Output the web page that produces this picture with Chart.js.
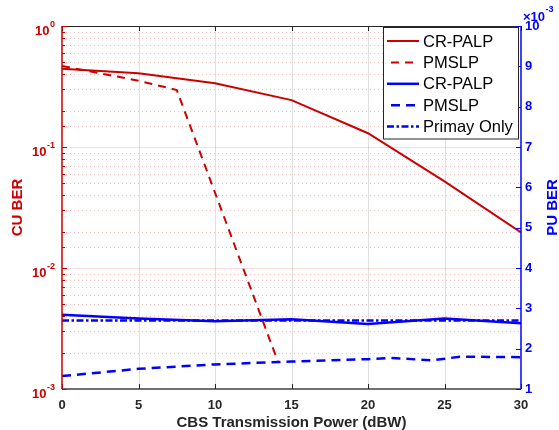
<!DOCTYPE html>
<html>
<head>
<meta charset="utf-8">
<script src="https://cdn.jsdelivr.net/npm/chart.js@4.4.0/dist/chart.umd.min.js"></script>
<style>
  body { margin: 0; background: #fff; }
  canvas { display: block; }
</style>
</head>
<body>
<canvas id="berChart" width="559" height="430"></canvas>
<script>
// CBS transmission power (dBW)
const powerDbw = [0, 5, 10, 15, 20, 25, 30];

// CU BER (left, log axis)
const cuBerPalp = [0.444, 0.406, 0.336, 0.244, 0.130, 0.052, 0.0197];
const cuPmslpPower = [0, 5, 7.5, 14.1];
const cuBerPmslp = [0.467, 0.353, 0.296, 0.0017];

// PU BER (right axis, in units of 1e-3)
const puBerPalp = [2.84, 2.75, 2.68, 2.73, 2.61, 2.75, 2.63];
const puPmslpPower = [0, 5, 10, 15, 20, 21.5, 24.2, 26, 30];
const puBerPmslp = [1.32, 1.50, 1.61, 1.68, 1.74, 1.77, 1.71, 1.80, 1.79];
const puBerPrimary = [2.70, 2.70, 2.70, 2.70, 2.70, 2.70, 2.70];

const xTicks = [0, 5, 10, 15, 20, 25, 30];
const cuDecadeExp = [0, -1, -2, -3];
const puTicks = [1, 2, 3, 4, 5, 6, 7, 8, 9, 10];

const RED = '#cc0000';
const BLUE = '#0000ff';
const DARK = '#262626';
const FONT = '"Liberation Sans", Arial, Helvetica, sans-serif';

const pts = (xs, ys) => xs.map((x, i) => ({ x: x, y: ys[i] }));

// grid, axis box, tick marks, exponent labels and legend, drawn the MATLAB way
const axesPlugin = {
  id: 'matlabAxes',
  beforeDatasetsDraw(chart) {
    const { ctx, chartArea: a, scales } = chart;
    const yL = scales.yL, x = scales.x;
    ctx.save();
    // vertical grid
    ctx.strokeStyle = '#e0e0e0';
    ctx.lineWidth = 1;
    xTicks.forEach(v => {
      if (v === 0 || v === 30) return;
      const px = Math.round(x.getPixelForValue(v)) + 0.5;
      ctx.beginPath(); ctx.moveTo(px, a.top); ctx.lineTo(px, a.bottom); ctx.stroke();
    });
    // horizontal grid from log-scale ticks
    yL.ticks.forEach(t => {
      const lg = Math.log10(t.value);
      const major = Math.abs(lg - Math.round(lg)) < 1e-6;
      const py = Math.round(yL.getPixelForValue(t.value)) + 0.5;
      if (py <= a.top + 1 || py >= a.bottom - 1) return;
      ctx.beginPath();
      if (major) {
        ctx.setLineDash([]);
        ctx.strokeStyle = 'rgba(204,0,0,0.14)';
      } else {
        ctx.setLineDash([1, 3]);
        ctx.strokeStyle = 'rgba(204,0,0,0.25)';
      }
      ctx.moveTo(a.left, py); ctx.lineTo(a.right, py); ctx.stroke();
    });
    ctx.restore();
  },
  afterDatasetsDraw(chart) {
    const { ctx, chartArea: a, scales } = chart;
    const yL = scales.yL, yR = scales.yR, x = scales.x;
    ctx.save();
    ctx.setLineDash([]);

    // top and bottom edges with x ticks
    ctx.lineWidth = 1;
    ctx.strokeStyle = DARK;
    ctx.beginPath(); ctx.moveTo(a.left, a.top + 0.5); ctx.lineTo(a.right, a.top + 0.5); ctx.stroke();
    ctx.strokeStyle = '#707070';
    ctx.lineWidth = 2;
    ctx.beginPath(); ctx.moveTo(a.left, a.bottom); ctx.lineTo(a.right, a.bottom); ctx.stroke();
    ctx.lineWidth = 1;
    ctx.strokeStyle = DARK;
    xTicks.forEach(v => {
      const px = Math.round(x.getPixelForValue(v)) + 0.5;
      ctx.beginPath(); ctx.moveTo(px, a.bottom); ctx.lineTo(px, a.bottom - 5); ctx.stroke();
      ctx.beginPath(); ctx.moveTo(px, a.top); ctx.lineTo(px, a.top + 5); ctx.stroke();
    });

    // left axis
    ctx.strokeStyle = RED;
    ctx.lineWidth = 1.5;
    ctx.beginPath(); ctx.moveTo(a.left, a.top); ctx.lineTo(a.left, a.bottom); ctx.stroke();
    ctx.lineWidth = 1;
    yL.ticks.forEach(t => {
      const lg = Math.log10(t.value);
      const major = Math.abs(lg - Math.round(lg)) < 1e-6;
      const py = Math.round(yL.getPixelForValue(t.value)) + 0.5;
      ctx.beginPath(); ctx.moveTo(a.left, py); ctx.lineTo(a.left + (major ? 5 : 3), py); ctx.stroke();
    });
    ctx.fillStyle = RED;
    ctx.textBaseline = 'middle';
    cuDecadeExp.forEach(e => {
      const py = yL.getPixelForValue(Math.pow(10, e));
      const exp = String(e);
      ctx.font = 'bold 9px ' + FONT;
      const ew = ctx.measureText(exp).width;
      ctx.textAlign = 'left';
      ctx.fillText(exp, 55 - ew, py - 1);
      ctx.font = 'bold 13px ' + FONT;
      ctx.textAlign = 'right';
      ctx.fillText('10', 55 - ew - 0.5, py + 5);
    });

    // right axis
    ctx.strokeStyle = BLUE;
    ctx.lineWidth = 1.5;
    ctx.beginPath(); ctx.moveTo(a.right, a.top); ctx.lineTo(a.right, a.bottom); ctx.stroke();
    ctx.lineWidth = 1;
    puTicks.forEach(v => {
      const py = Math.round(yR.getPixelForValue(v)) + 0.5;
      ctx.beginPath(); ctx.moveTo(a.right, py); ctx.lineTo(a.right - 5, py); ctx.stroke();
    });
    ctx.fillStyle = BLUE;
    ctx.textAlign = 'left';
    ctx.font = 'bold 13px ' + FONT;
    ctx.fillText('\u00d710', 523, 17);
    const xw = ctx.measureText('\u00d710').width;
    ctx.font = 'bold 9px ' + FONT;
    ctx.fillText('-3', 523 + xw + 0.5, 10);

    // right axis title, reading bottom to top
    ctx.save();
    ctx.translate(553, (a.top + a.bottom) / 2);
    ctx.rotate(-Math.PI / 2);
    ctx.textAlign = 'center';
    ctx.font = 'bold 15px ' + FONT;
    ctx.fillText('PU BER', 0, 0);
    ctx.restore();

    // legend
    const lx = 383.5, ly = 27.5, lw = 135, lh = 111.5;
    ctx.fillStyle = '#fff';
    ctx.fillRect(lx, ly, lw, lh);
    ctx.strokeStyle = DARK;
    ctx.lineWidth = 1;
    ctx.strokeRect(lx, ly, lw, lh);
    chart.data.datasets.forEach((ds, i) => {
      const ry = 41 + i * 21.4;
      ctx.strokeStyle = ds.borderColor;
      ctx.lineWidth = ds.borderWidth;
      ctx.setLineDash(ds.borderDash || []);
      ctx.lineDashOffset = ds.borderDash && ds.borderDash.length === 2 ? -4 : 0;
      ctx.beginPath(); ctx.moveTo(387, ry); ctx.lineTo(419, ry); ctx.stroke();
      ctx.setLineDash([]);
      ctx.lineDashOffset = 0;
      ctx.fillStyle = '#000';
      ctx.font = '16.5px ' + FONT;
      ctx.textAlign = 'left';
      ctx.textBaseline = 'middle';
      ctx.fillText(ds.label, 423, ry + 1);
    });
    ctx.restore();
  }
};

new Chart(document.getElementById('berChart'), {
  type: 'line',
  data: {
    datasets: [
      { label: 'CR-PALP', data: pts(powerDbw, cuBerPalp), yAxisID: 'yL',
        borderColor: RED, borderWidth: 2 },
      { label: 'PMSLP', data: pts(cuPmslpPower, cuBerPmslp), yAxisID: 'yL',
        borderColor: RED, borderWidth: 2, borderDash: [8, 6] },
      { label: 'CR-PALP', data: pts(powerDbw, puBerPalp), yAxisID: 'yR',
        borderColor: BLUE, borderWidth: 2.5 },
      { label: 'PMSLP', data: pts(puPmslpPower, puBerPmslp), yAxisID: 'yR',
        borderColor: BLUE, borderWidth: 2.5, borderDash: [9, 6] },
      { label: 'Primay Only', data: pts(powerDbw, puBerPrimary), yAxisID: 'yR',
        borderColor: BLUE, borderWidth: 2.5, borderDash: [7, 2.5, 2.5, 2.5] }
    ]
  },
  options: {
    responsive: false,
    animation: false,
    layout: { padding: { top: 26, left: 0, right: 0, bottom: 0 } },
    elements: { point: { radius: 0 }, line: { tension: 0, fill: false } },
    plugins: { legend: { display: false }, tooltip: { enabled: false } },
    scales: {
      x: {
        type: 'linear', position: 'bottom', min: 0, max: 30,
        afterFit: s => { s.height = 41; },
        afterBuildTicks: s => { s.ticks = xTicks.map(v => ({ value: v })); },
        grid: { display: false, drawTicks: false },
        border: { display: false },
        ticks: { color: DARK, padding: 9, maxRotation: 0, autoSkip: false,
                 font: { family: FONT, size: 13, weight: 'bold' } },
        title: { display: true, text: 'CBS Transmission Power (dBW)', color: DARK,
                 padding: { top: 0.5, bottom: 0 },
                 font: { family: FONT, size: 15, weight: 'bold', lineHeight: 1 } }
      },
      yL: {
        type: 'logarithmic', position: 'left', min: 1e-3, max: 1,
        afterFit: s => { s.width = 62; },
        grid: { display: false, drawTicks: false },
        border: { display: false },
        ticks: { display: false },
        title: { display: true, text: 'CU BER', color: RED,
                 padding: { top: 8.5, bottom: 0 },
                 font: { family: FONT, size: 15, weight: 'bold' } }
      },
      yR: {
        type: 'linear', position: 'right', min: 1, max: 10,
        afterFit: s => { s.width = 38; },
        afterBuildTicks: s => { s.ticks = puTicks.map(v => ({ value: v })); },
        grid: { display: false, drawTicks: false },
        border: { display: false },
        ticks: { color: BLUE, padding: 4,
                 font: { family: FONT, size: 13, weight: 'bold' } }
      }
    }
  },
  plugins: [axesPlugin]
});
</script>
</body>
</html>
